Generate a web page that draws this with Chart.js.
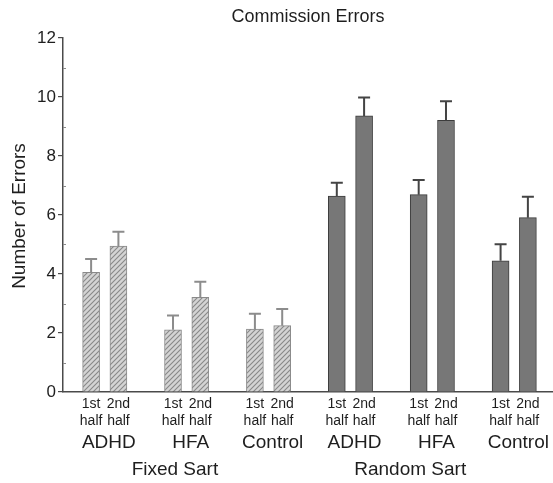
<!DOCTYPE html>
<html lang="en">
<head>
  <meta charset="UTF-8">
  <title>Commission Errors</title>
  <script src="https://cdn.jsdelivr.net/npm/chart.js"></script>
  <style>
    html, body {
      margin: 0;
      padding: 0;
      background: #ffffff;
    }
    #wrap {
      width: 553px;
      height: 483px;
    }
  </style>
</head>
<body>
  <div id="wrap"><canvas id="errChart"></canvas></div>

  <script>
    // chart values
    const chartTitle = 'Commission Errors';
    const yTitle = 'Number of Errors';
    const conditions = ['Fixed Sart', 'Random Sart'];
    const groups = ['ADHD', 'HFA', 'Control'];
    const halves = [['1st', 'half'], ['2nd', 'half']];
    const fixedMeans = [4.06, 4.95, 2.11, 3.21, 2.13, 2.25];
    const fixedErrors = [0.45, 0.48, 0.48, 0.53, 0.52, 0.56];
    const randomMeans = [6.64, 9.36, 6.69, 9.21, 4.45, 5.91];
    const randomErrors = [0.45, 0.62, 0.50, 0.65, 0.56, 0.71];
    const yTicks = [0, 2, 4, 6, 8, 10, 12];

    const FONT = '"Liberation Sans", Arial, sans-serif';
    const TEXT = '#1e1e1e';
    const AXIS = '#4a4a4a';

    // bar slot on the x scale: 3 units per group, two halves side by side
    function slot(cond, group, half) {
      return (cond * groups.length + group) * 3 + 1.03 + half;
    }

    function toPoints(cond, values) {
      return values.map((v, i) => ({
        x: slot(cond, Math.floor(i / 2), i % 2),
        y: v
      }));
    }

    // hatch fill for the fixed sart bars
    function makeHatch() {
      const c = document.createElement('canvas');
      c.width = 5;
      c.height = 5;
      const g = c.getContext('2d');
      g.fillStyle = '#d4d4d4';
      g.fillRect(0, 0, 5, 5);
      g.strokeStyle = '#888888';
      g.lineWidth = 1.1;
      g.beginPath();
      g.moveTo(-1, 6); g.lineTo(6, -1);
      g.moveTo(-1, 1); g.lineTo(1, -1);
      g.moveTo(4, 6); g.lineTo(6, 4);
      g.stroke();
      return g.createPattern(c, 'repeat');
    }

    const errorBars = {
      id: 'errorBars',
      afterDatasetsDraw(chart) {
        const { ctx, scales: { x, y } } = chart;
        const errs = [fixedErrors, randomErrors];
        const cols = ['#8c8c8c', '#444444'];
        chart.data.datasets.forEach((ds, d) => {
          ds.data.forEach((p, i) => {
            const px = x.getPixelForValue(p.x);
            const top = y.getPixelForValue(p.y);
            const end = y.getPixelForValue(p.y + errs[d][i]);
            ctx.save();
            ctx.strokeStyle = cols[d];
            ctx.lineWidth = 2;
            ctx.beginPath();
            ctx.moveTo(px, top);
            ctx.lineTo(px, end);
            ctx.moveTo(px - 6, end);
            ctx.lineTo(px + 6, end);
            ctx.stroke();
            ctx.restore();
          });
        });
      }
    };

    const annotations = {
      id: 'annotations',
      afterDraw(chart) {
        const { ctx, chartArea, scales: { x, y } } = chart;
        ctx.save();
        ctx.fillStyle = TEXT;
        ctx.textAlign = 'center';
        ctx.textBaseline = 'middle';

        // title
        ctx.font = '18px ' + FONT;
        ctx.fillText(chartTitle, (chartArea.left + chartArea.right) / 2, 17);

        // y title
        ctx.save();
        ctx.translate(20, 216);
        ctx.rotate(-Math.PI / 2);
        ctx.font = '19px ' + FONT;
        ctx.fillText(yTitle, 0, 0);
        ctx.restore();

        // minor ticks pointing inward
        ctx.strokeStyle = '#8a8a8a';
        ctx.lineWidth = 1;
        for (let v = 1; v < 12; v += 2) {
          const py = Math.round(y.getPixelForValue(v)) + 0.5;
          ctx.beginPath();
          ctx.moveTo(chartArea.left, py);
          ctx.lineTo(chartArea.left + 3, py);
          ctx.stroke();
        }

        const base = chartArea.bottom;
        conditions.forEach((cond, c) => {
          groups.forEach((grp, g) => {
            halves.forEach((lines, h) => {
              const px = x.getPixelForValue(slot(c, g, h));
              ctx.font = '14px ' + FONT;
              ctx.fillText(lines[0], px, base + 12);
              ctx.fillText(lines[1], px, base + 29);
            });
            const gx = x.getPixelForValue(slot(c, g, 0) + 0.65);
            ctx.font = '19px ' + FONT;
            ctx.fillText(grp, gx, base + 51);
          });
          const cx = x.getPixelForValue(c === 0 ? 4.1 : 12.72);
          ctx.font = '19px ' + FONT;
          ctx.fillText(cond, cx, base + 78);
        });
        ctx.restore();
      }
    };

    new Chart(document.getElementById('errChart'), {
      type: 'bar',
      data: {
        datasets: [
          {
            label: conditions[0],
            data: toPoints(0, fixedMeans),
            backgroundColor: makeHatch(),
            borderColor: '#8a8a8a',
            borderWidth: 1,
            barThickness: 17,
            grouped: false
          },
          {
            label: conditions[1],
            data: toPoints(1, randomMeans),
            backgroundColor: '#777777',
            borderColor: '#3c3c3c',
            borderWidth: 1,
            barThickness: 17,
            grouped: false
          }
        ]
      },
      options: {
        responsive: true,
        maintainAspectRatio: false,
        animation: false,
        layout: {
          padding: { top: 38, right: 0, bottom: 0, left: 0 }
        },
        plugins: {
          legend: { display: false },
          tooltip: { enabled: false },
          title: { display: false }
        },
        scales: {
          x: {
            type: 'linear',
            min: 0,
            max: 17.95,
            offset: false,
            ticks: { display: false },
            grid: { display: true, drawOnChartArea: false, drawTicks: false },
            border: { display: true, color: AXIS, width: 1.5 },
            afterFit(scale) { scale.height = 91; }
          },
          y: {
            min: 0,
            max: 12,
            afterBuildTicks(scale) {
              scale.ticks = yTicks.map(v => ({ value: v }));
            },
            ticks: {
              color: TEXT,
              font: { family: FONT, size: 17 },
              padding: 2
            },
            grid: {
              drawOnChartArea: false,
              drawTicks: true,
              tickLength: 5,
              tickColor: AXIS,
              lineWidth: 1.2
            },
            border: { display: true, color: AXIS, width: 1.5 },
            afterFit(scale) { scale.width = 63; }
          }
        }
      },
      plugins: [errorBars, annotations]
    });
  </script>
</body>
</html>
